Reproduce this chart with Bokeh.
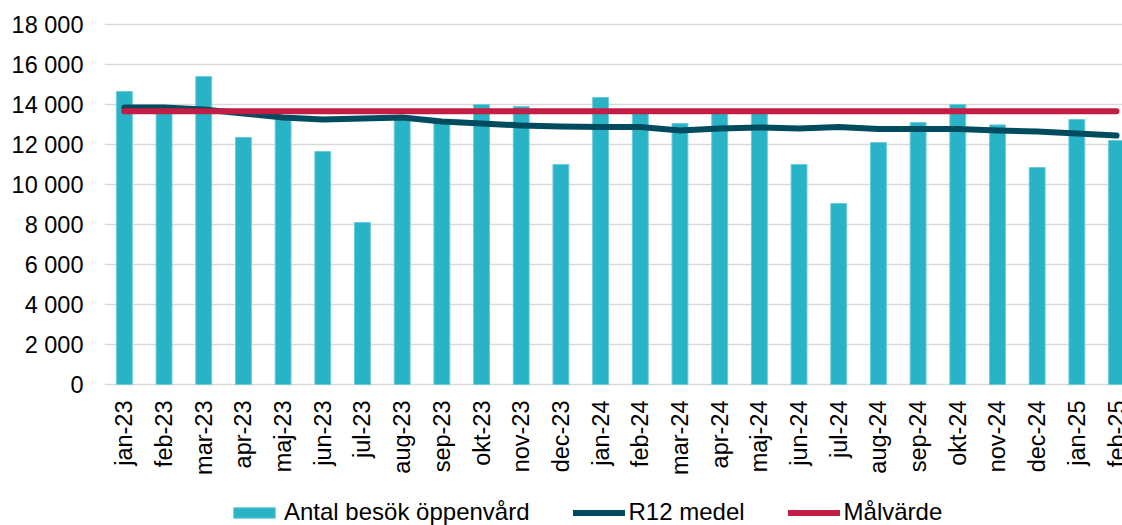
import math
from bokeh.plotting import figure
from bokeh.models import (Range1d, FixedTicker, Legend, LegendItem, ColumnDataSource,
                          CustomJSTickFormatter)
from bokeh.core.properties import value
from bokeh.embed import file_html
from bokeh.resources import INLINE

months = ["jan-23", "feb-23", "mar-23", "apr-23", "maj-23", "jun-23", "jul-23", "aug-23",
          "sep-23", "okt-23", "nov-23", "dec-23", "jan-24", "feb-24", "mar-24", "apr-24",
          "maj-24", "jun-24", "jul-24", "aug-24", "sep-24", "okt-24", "nov-24", "dec-24",
          "jan-25", "feb-25"]
visits = [14650, 13700, 15400, 12350, 13300, 11650, 8100, 13300,
          13100, 14000, 13900, 11000, 14350, 13650, 13050, 13600,
          13600, 11000, 9050, 12100, 13100, 14000, 12980, 10850,
          13250, 12200]
r12 = [13850, 13850, 13750, 13550, 13350, 13250, 13300, 13350,
       13150, 13050, 12950, 12900, 12880, 12880, 12700, 12800,
       12850, 12800, 12880, 12780, 12780, 12780, 12700, 12650,
       12550, 12450]
target = [13660] * 26
y_ticks = [0, 2000, 4000, 6000, 8000, 10000, 12000, 14000, 16000, 18000]

FONT = "Liberation Sans"
FS = "23.5px"

src = ColumnDataSource(dict(x=list(range(len(months))), months=months, base=[0] * len(months),
                            visits=visits, r12=r12, target=target))

# The frame reaches the bottom of the canvas so the month labels and the legend
# (drawn below the zero line) are inside it; 20 px per 1000.
p = figure(width=1122, height=525, output_backend="svg", toolbar_location=None,
           x_range=Range1d(-0.5, 25.15), y_range=Range1d(-7050, 18100),
           min_border_left=104, min_border_right=0, min_border_top=22, min_border_bottom=0)
p.outline_line_color = None
p.background_fill_color = "white"
p.border_fill_color = "white"

bars = p.vbar(x="x", top="visits", bottom=0, width=0.4, source=src,
              fill_color="#29B3C6", line_color="#6CCBD8", line_width=1)
r12_line = p.line(x="x", y="r12", source=src, line_color="#004B5E", line_width=6,
                  line_cap="round", line_join="round")
tgt_line = p.line(x="x", y="target", source=src, line_color="#C21E45", line_width=6,
                  line_cap="round")

# month labels under the zero line
p.text(x="x", y="base", text="months", source=src, angle=math.pi / 2,
       text_align="right", text_baseline="middle", y_offset=16,
       text_font=value(FONT), text_font_size=FS, text_color="black")

# grid
p.xgrid.grid_line_color = None
p.ygrid.ticker = FixedTicker(ticks=y_ticks)
p.ygrid.grid_line_color = "#D9D9D9"
p.ygrid.grid_line_width = 1.5

# y axis
ya = p.yaxis[0]
ya.ticker = FixedTicker(ticks=y_ticks)
ya.formatter = CustomJSTickFormatter(code="""
return tick.toFixed(0).replace(/\\B(?=(\\d{3})+(?!\\d))/g, " ");
""")
ya.axis_line_color = None
ya.major_tick_line_color = None
ya.minor_tick_line_color = None
ya.major_tick_out = 0
ya.major_tick_in = 0
ya.major_label_standoff = 21
ya.major_label_text_font = FONT
ya.major_label_text_font_size = FS
ya.major_label_text_color = "black"

p.xaxis.visible = False

legend = Legend(items=[LegendItem(label="Antal besök öppenvård", renderers=[bars]),
                       LegendItem(label="R12 medel", renderers=[r12_line]),
                       LegendItem(label="Målvärde", renderers=[tgt_line])],
                location=(124, -1), orientation="horizontal",
                padding=0, margin=0, spacing=43,
                border_line_color=None, background_fill_alpha=0,
                glyph_width=52, glyph_height=13, label_standoff=4,
                label_text_font=FONT, label_text_font_size="24px",
                label_text_color="black")
p.add_layout(legend, "center")

open("out.html", "w").write(file_html(p, INLINE))
